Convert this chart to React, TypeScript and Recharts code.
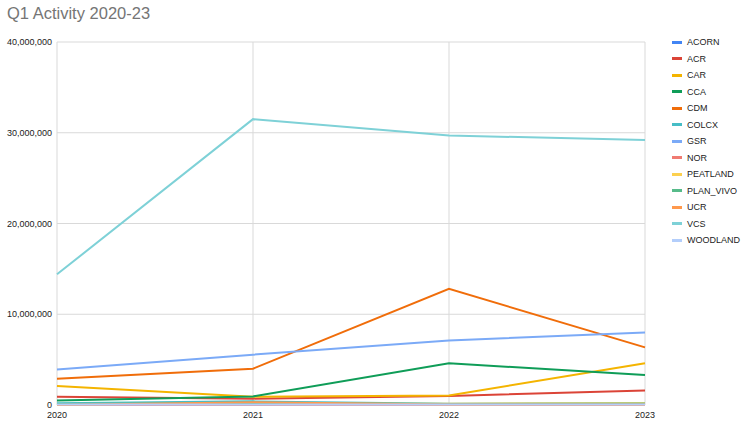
import React from 'react';
import { LineChart, Line, XAxis, YAxis, CartesianGrid } from 'recharts';

// Years on the x axis
const years = ['2020', '2021', '2022', '2023'];

// Series values
const ACORN = [50000, 80000, 100000, 120000];
const ACR = [900000, 700000, 1000000, 1600000];
const CAR = [2100000, 900000, 1050000, 4600000];
const CCA = [500000, 950000, 4600000, 3300000];
const CDM = [2900000, 4000000, 12800000, 6350000];
const COLCX = [200000, 400000, 150000, 200000];
const GSR = [3900000, 5550000, 7100000, 8000000];
const NOR = [20000, 20000, 20000, 20000];
const PEATLAND = [100000, 150000, 150000, 200000];
const PLAN_VIVO = [100000, 200000, 100000, 150000];
const UCR = [0, 300000, 50000, 50000];
const VCS = [14400000, 31500000, 29700000, 29200000];
const WOODLAND = [50000, 50000, 50000, 50000];

const yTicks = [0, 10000000, 20000000, 30000000, 40000000];

const SERIES: { name: string; values: number[]; color: string }[] = [
  { name: 'ACORN', values: ACORN, color: '#4285F4' },
  { name: 'ACR', values: ACR, color: '#DB4437' },
  { name: 'CAR', values: CAR, color: '#F4B400' },
  { name: 'CCA', values: CCA, color: '#0F9D58' },
  { name: 'CDM', values: CDM, color: '#F06D0A' },
  { name: 'COLCX', values: COLCX, color: '#46BDC6' },
  { name: 'GSR', values: GSR, color: '#7BAAF7' },
  { name: 'NOR', values: NOR, color: '#F07B72' },
  { name: 'PEATLAND', values: PEATLAND, color: '#FCD04F' },
  { name: 'PLAN_VIVO', values: PLAN_VIVO, color: '#57BB8A' },
  { name: 'UCR', values: UCR, color: '#FF994D' },
  { name: 'VCS', values: VCS, color: '#7ED1D7' },
  { name: 'WOODLAND', values: WOODLAND, color: '#B3CEFB' },
];

const FONT = '"Liberation Sans", Arial, sans-serif';

export default function App() {
  const chartData = years.map((year, i) => {
    const row: Record<string, string | number> = { year };
    SERIES.forEach((s) => {
      row[s.name] = s.values[i];
    });
    return row;
  });

  return (
    <div style={{ position: 'absolute', left: 0, top: 0, width: 751, height: 430, background: '#fff', fontFamily: FONT }}>
      <div style={{ position: 'absolute', left: 7, top: 4, fontSize: 16.5, color: '#757575' }}>
        Q1 Activity 2020-23
      </div>

      <LineChart
        width={751}
        height={430}
        data={chartData}
        margin={{ top: 42, right: 106, bottom: 5, left: 0 }}
      >
        <CartesianGrid stroke="#d9d9d9" />
        <XAxis
          dataKey="year"
          height={20}
          axisLine={false}
          tickLine={false}
          tickSize={0}
          tickMargin={7}
          interval={0}
          tick={{ fontSize: 9, fill: '#222', fontFamily: FONT }}
        />
        <YAxis
          width={57}
          domain={[0, 40000000]}
          ticks={yTicks}
          axisLine={false}
          tickLine={false}
          tickSize={0}
          tickMargin={5}
          tick={{ fontSize: 9, fill: '#222', fontFamily: FONT }}
          tickFormatter={(v: number) => v.toLocaleString('en-US')}
        />
        {SERIES.map((s) => (
          <Line
            key={s.name}
            type="linear"
            dataKey={s.name}
            stroke={s.color}
            strokeWidth={2}
            dot={false}
            isAnimationActive={false}
          />
        ))}
      </LineChart>

      {/* Legend on the right */}
      <div style={{ position: 'absolute', left: 672, top: 34 }}>
        {SERIES.map((s) => (
          <div key={s.name} style={{ display: 'flex', alignItems: 'center', height: 16.5 }}>
            <div style={{ width: 10, height: 3, background: s.color, marginRight: 5 }} />
            <span style={{ fontSize: 9, color: '#222' }}>{s.name}</span>
          </div>
        ))}
      </div>
    </div>
  );
}
